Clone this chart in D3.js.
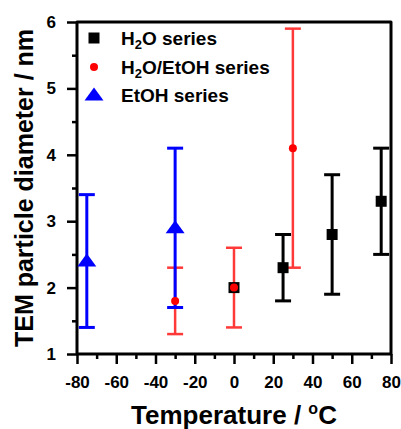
<!DOCTYPE html>
<html>
<head>
<meta charset="utf-8">
<script src="https://cdn.jsdelivr.net/npm/d3@7"></script>
<style>
  body { margin: 0; background: #fff; }
  svg { font-family: Arial, "Liberation Sans", sans-serif; font-weight: bold; }
</style>
</head>
<body>
<div id="chart"></div>
<script>
// data
var h2oTemp = [0, 25, 50, 75];
var h2oSize = [2.0, 2.3, 2.8, 3.3];
var h2oLow = [null, 1.8, 1.9, 2.5];
var h2oHigh = [null, 2.8, 3.7, 4.1];

var mixTemp = [-30, 0, 30];
var mixSize = [1.8, 2.0, 4.1];
var mixLow = [1.3, 1.4, 2.3];
var mixHigh = [2.3, 2.6, 5.9];

var etohTemp = [-75, -30];
var etohSize = [2.4, 2.9];
var etohLow = [1.4, 1.7];
var etohHigh = [3.4, 4.1];

var xTicks = [-80, -60, -40, -20, 0, 20, 40, 60, 80];
var yTicks = [1, 2, 3, 4, 5, 6];

// set up svg
var svgWidth = 401;
var svgHeight = 429;
var margin = { top: 22, right: 10, bottom: 75, left: 77 };
var width = 391 - margin.left;
var height = 354 - margin.top;

var svg = d3.select("#chart")
    .append("svg")
    .attr("width", svgWidth)
    .attr("height", svgHeight);

var chartGroup = svg.append("g")
    .attr("transform", `translate(${margin.left}, ${margin.top})`);

var x = d3.scaleLinear().domain([-80, 80]).range([0, width]);
var y = d3.scaleLinear().domain([1, 6]).range([height, 0]);

// minor ticks
var xMinor = d3.axisBottom(x).tickValues(d3.range(-70, 80, 20)).tickSize(5).tickFormat("");
var yMinor = d3.axisLeft(y).tickValues(d3.range(1.5, 6, 1)).tickSize(5).tickFormat("");
chartGroup.append("g").attr("class", "minor").attr("transform", `translate(0, ${height})`).call(xMinor);
chartGroup.append("g").attr("class", "minor").call(yMinor);

// major ticks (plain hyphen for negatives, like the original)
var fmt = d => String(d);
var xAxis = d3.axisBottom(x).tickValues(xTicks).tickSize(10).tickPadding(12).tickSizeOuter(0).tickFormat(fmt);
var yAxis = d3.axisLeft(y).tickValues(yTicks).tickSize(10).tickPadding(11).tickSizeOuter(0).tickFormat(fmt);
chartGroup.append("g").attr("class", "major").attr("transform", `translate(0, ${height})`).call(xAxis);
chartGroup.append("g").attr("class", "major").call(yAxis);

chartGroup.selectAll(".domain").remove();
chartGroup.selectAll(".tick line").attr("stroke", "#000").attr("stroke-width", 2.5);
chartGroup.selectAll(".tick text")
    .attr("fill", "#000")
    .style("font-size", "17px")
    .style("font-weight", "bold")
    .style("font-family", "Arial, 'Liberation Sans', sans-serif");

// frame
chartGroup.append("path")
    .attr("d", `M0,0H${width}V${height}H0Z`)
    .attr("fill", "none")
    .attr("stroke", "#000")
    .attr("stroke-width", 3)
    .attr("stroke-linejoin", "round");

// error bars
function errorBars(temps, lows, highs, color, lw) {
    var g = chartGroup.append("g").attr("stroke", color).attr("stroke-width", lw).attr("fill", "none");
    temps.forEach(function(t, i) {
        if (lows[i] == null) return;
        var cx = x(t);
        g.append("line").attr("x1", cx).attr("x2", cx).attr("y1", y(lows[i])).attr("y2", y(highs[i]));
        g.append("line").attr("x1", cx - 8).attr("x2", cx + 8).attr("y1", y(lows[i])).attr("y2", y(lows[i]));
        g.append("line").attr("x1", cx - 8).attr("x2", cx + 8).attr("y1", y(highs[i])).attr("y2", y(highs[i]));
    });
}
errorBars(h2oTemp, h2oLow, h2oHigh, "#000", 3);
errorBars(mixTemp, mixLow, mixHigh, "#ff3838", 2.5);
errorBars(etohTemp, etohLow, etohHigh, "#0000ff", 3);

// points
var squarePath = "M-5.5,-5.5H5.5V5.5H-5.5Z";
var triPath = "M0,-7.5L9.5,5.5L-9.5,5.5Z";

chartGroup.selectAll(".pt-h2o")
    .data(h2oTemp)
    .enter()
    .append("path")
    .attr("class", "pt-h2o")
    .attr("d", squarePath)
    .attr("transform", (d, i) => `translate(${x(d)}, ${y(h2oSize[i])})`)
    .attr("fill", "#000");

chartGroup.selectAll(".pt-mix")
    .data(mixTemp)
    .enter()
    .append("circle")
    .attr("class", "pt-mix")
    .attr("cx", d => x(d))
    .attr("cy", (d, i) => y(mixSize[i]))
    .attr("r", 4)
    .attr("fill", "#ff0000");

chartGroup.selectAll(".pt-etoh")
    .data(etohTemp)
    .enter()
    .append("path")
    .attr("class", "pt-etoh")
    .attr("d", triPath)
    .attr("transform", (d, i) => `translate(${x(d)}, ${y(etohSize[i])})`)
    .attr("fill", "#0000ff");

// legend
var legend = svg.append("g").attr("transform", "translate(94, 38)");
legend.append("path").attr("d", squarePath).attr("fill", "#000");
legend.append("circle").attr("cy", 29).attr("r", 4).attr("fill", "#ff0000");
legend.append("path").attr("d", triPath).attr("transform", "translate(0, 57)").attr("fill", "#0000ff");

var legendText = legend.append("g").style("font-size", "19px").attr("fill", "#000");
var t1 = legendText.append("text").attr("x", 27).attr("y", 7);
t1.append("tspan").text("H");
t1.append("tspan").text("2").style("font-size", "13px").attr("dy", 4);
t1.append("tspan").text("O series").attr("dy", -4);
var t2 = legendText.append("text").attr("x", 27).attr("y", 36);
t2.append("tspan").text("H");
t2.append("tspan").text("2").style("font-size", "13px").attr("dy", 4);
t2.append("tspan").text("O/EtOH series").attr("dy", -4);
legendText.append("text").attr("x", 27).attr("y", 64).text("EtOH series");

// axis titles
var xTitle = svg.append("text")
    .attr("x", margin.left + width / 2)
    .attr("y", 424)
    .attr("text-anchor", "middle")
    .style("font-size", "26px");
xTitle.append("tspan").text("Temperature / ");
xTitle.append("tspan").text("o").style("font-size", "16px").attr("dy", -10);
xTitle.append("tspan").text("C").attr("dy", 10);

svg.append("text")
    .attr("transform", `translate(33, ${margin.top + height / 2}) rotate(-90)`)
    .attr("text-anchor", "middle")
    .style("font-size", "25px")
    .text("TEM particle diameter / nm");
</script>
</body>
</html>
